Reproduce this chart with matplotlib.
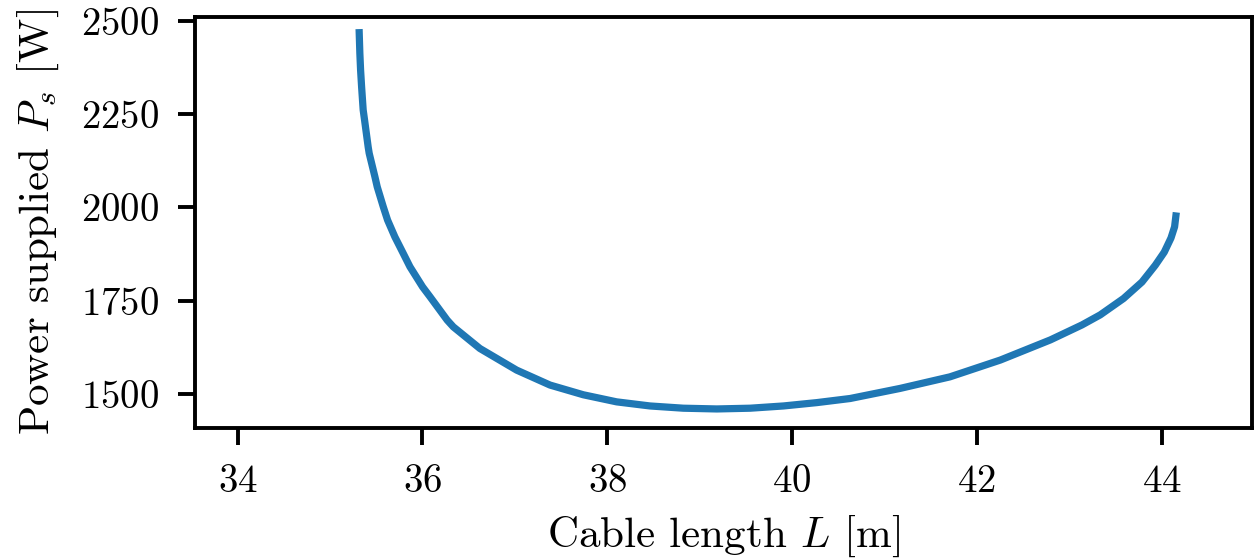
import matplotlib
matplotlib.use('Agg')
import matplotlib.pyplot as plt

# cable length L [m] and supplied power P_s [W]
cable_length = [35.317, 35.324, 35.332, 35.343, 35.360, 35.375, 35.414, 35.425,
                35.487, 35.512, 35.577, 35.624, 35.703, 35.793, 35.866, 36.003,
                36.082, 36.269, 36.335, 36.623, 37.021, 37.382, 37.742, 38.103,
                38.464, 38.825, 39.187, 39.548, 39.908, 40.270, 40.630, 41.170,
                41.710, 42.255, 42.797, 43.138, 43.336, 43.589, 43.788, 43.932,
                44.029, 44.102, 44.141, 44.155]
power_supplied = [2468, 2413, 2368, 2323, 2261, 2234, 2162, 2145,
                  2082, 2055, 2002, 1966, 1921, 1877, 1841, 1787,
                  1761, 1698, 1680, 1622, 1564, 1524, 1498, 1479,
                  1468, 1462, 1460, 1462, 1468, 1477, 1488, 1515,
                  1546, 1591, 1645, 1685, 1712, 1756, 1800, 1845,
                  1880, 1918, 1948, 1977]

plt.rcParams['font.family'] = 'serif'
plt.rcParams['font.serif'] = ['cmr10']
plt.rcParams['mathtext.fontset'] = 'cm'
plt.rcParams['axes.formatter.use_mathtext'] = True
plt.rcParams['font.size'] = 14

fig = plt.figure(figsize=(6.27, 2.79), dpi=200)
ax = fig.add_axes([0.1555, 0.233, 0.843, 0.7365])

ax.plot(cable_length, power_supplied, color='#1f77b4', linewidth=2.6,
        solid_joinstyle='round')

ax.set_xlim(33.54, 44.98)
ax.set_ylim(1409, 2510)
ax.set_xticks([34, 36, 38, 40, 42, 44])
ax.set_yticks([1500, 1750, 2000, 2250, 2500])

for spine in ax.spines.values():
    spine.set_linewidth(1.4)
ax.tick_params(length=6, width=1.4, pad=7)

ax.set_xlabel('Cable length $L$ [m]', fontsize=15.5, labelpad=5)
ax.set_ylabel('Power supplied $P_s$ [W]', fontsize=15.5, labelpad=7)

fig.savefig('out.png', dpi=200)
